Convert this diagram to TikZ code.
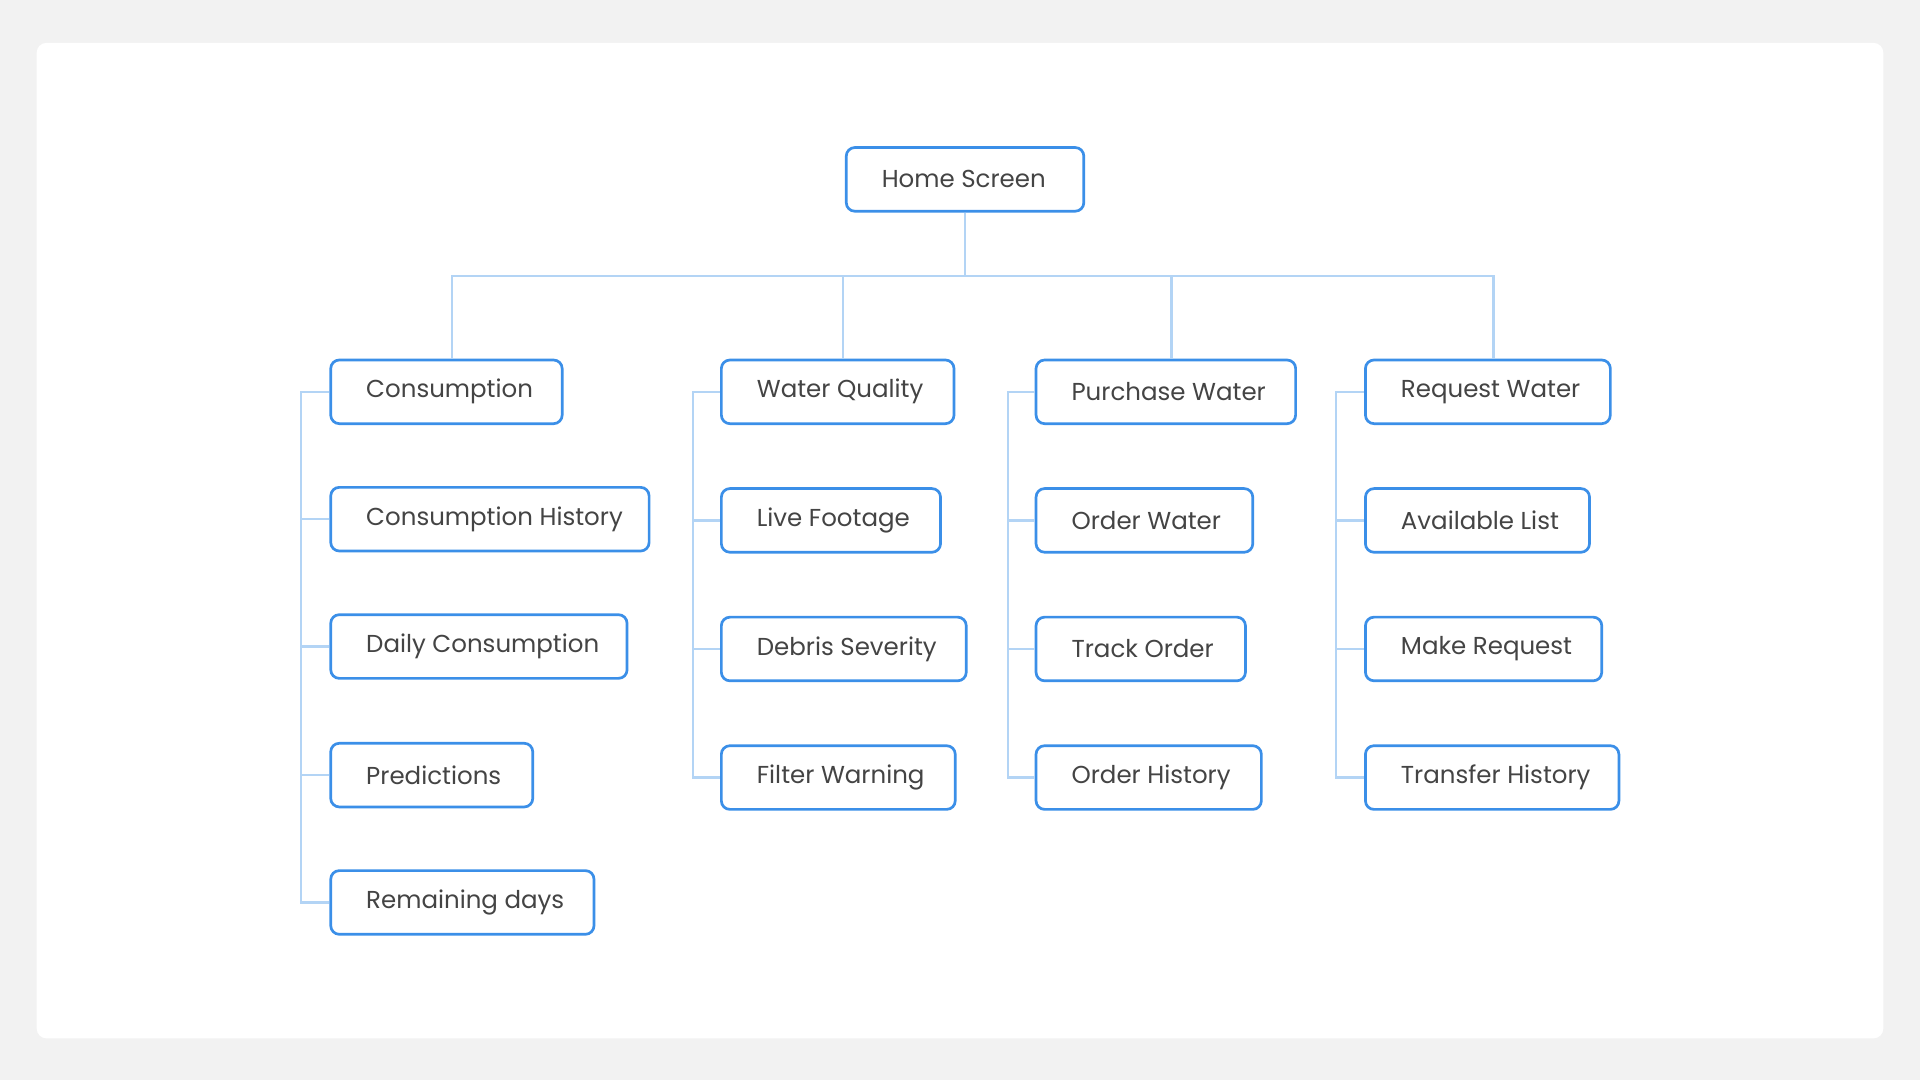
\documentclass[tikz,border=0pt]{standalone}
\usepackage{fontspec}
\setmainfont{Poppins}
\definecolor{bg}{HTML}{F2F2F2}
\definecolor{bord}{HTML}{3B8FE8}
\definecolor{conn}{HTML}{B3D4F5}
\definecolor{txt}{HTML}{444444}
\tikzset{
  box/.style={draw=bord, line width=2.2pt, rounded corners=7pt, fill=white, text=txt,
    anchor=west, minimum height=52pt, inner xsep=29pt, inner ysep=0pt,
    font=\fontsize{20}{24}\selectfont},
  link/.style={draw=conn, line width=2pt}
}
\newcommand{\bx}[5]{%
  \pgfmathsetmacro{\bw}{#3-#2-58}%
  \node[box] (#1) at (#2pt,-#4pt) {\makebox[\bw pt][l]{#5}};}
\begin{document}
\begin{tikzpicture}[x=1pt,y=1pt]
\fill[bg] (0,0) rectangle (1568,-882);
\useasboundingbox (0,0) rectangle (1568,-882);
\fill[white, rounded corners=8pt] (30,-35) rectangle (1538,-848);
\bx{home}{690}{884}{146.5}{Home Screen}
\bx{a1}{269}{458}{320}{Consumption}
\bx{a2}{269}{529}{424}{Consumption History}
\bx{a3}{269}{511}{528}{Daily Consumption}
\bx{a4}{269}{434}{633}{Predictions}
\bx{a5}{269}{484}{737}{Remaining days}
\bx{b1}{588}{778}{320}{Water Quality}
\bx{b2}{588}{767}{425}{Live Footage}
\bx{b3}{588}{788}{530}{Debris Severity}
\bx{b4}{588}{779}{635}{Filter Warning}
\bx{c1}{845}{1057}{320}{Purchase Water}
\bx{c2}{845}{1022}{425}{Order Water}
\bx{c3}{845}{1016}{530}{Track Order}
\bx{c4}{845}{1029}{635}{Order History}
\bx{d1}{1114}{1314}{320}{Request Water}
\bx{d2}{1114}{1297}{425}{Available List}
\bx{d3}{1114}{1307}{530}{Make Request}
\bx{d4}{1114}{1321}{635}{Transfer History}
\coordinate (j) at ([yshift=-52pt]home.south);
\draw[link] (home.south) -- (j);
\draw[link] (j) -| ([xshift=4.5pt]a1.north);
\draw[link] (j) -| ([xshift=4.5pt]b1.north);
\draw[link] (j) -| ([xshift=4.5pt]c1.north);
\draw[link] (j) -| ([xshift=4.5pt]d1.north);
\draw[link] (a1.west) -- ++(-23,0) |- (a5.west);
\foreach \n in {a2,a3,a4} \draw[link] (\n.west) -- ++(-23,0);
\draw[link] (b1.west) -- ++(-22,0) |- (b4.west);
\foreach \n in {b2,b3} \draw[link] (\n.west) -- ++(-22,0);
\draw[link] (c1.west) -- ++(-22,0) |- (c4.west);
\foreach \n in {c2,c3} \draw[link] (\n.west) -- ++(-22,0);
\draw[link] (d1.west) -- ++(-23,0) |- (d4.west);
\foreach \n in {d2,d3} \draw[link] (\n.west) -- ++(-23,0);
\end{tikzpicture}
\end{document}
